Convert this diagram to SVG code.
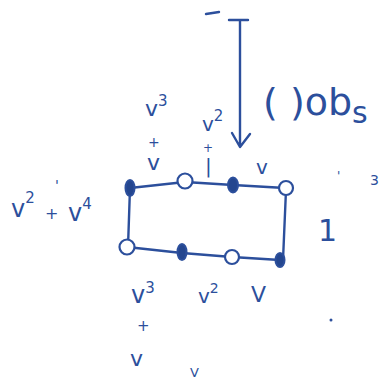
<svg xmlns="http://www.w3.org/2000/svg" width="382" height="382" viewBox="0 0 382 382">
<style>
.ink{stroke:#2c4f9c;stroke-width:2.4;fill:none;stroke-linecap:round;stroke-linejoin:round}
.full{fill:#24468f;stroke:#2c4f9c;stroke-width:2}
.open{fill:#fff;stroke:#2c4f9c;stroke-width:2.2}
.t{font-family:"DejaVu Sans",sans-serif;fill:#2c4f9c}
</style>
<rect width="382" height="382" fill="#fff"/>
<g id="connectors">
<path class="ink" d="M130,188 L185,182 L233,185 L285,188"/>
<path class="ink" d="M127,247 L182,253 L232,257 L280,260"/>
<path class="ink" d="M130,188 L128,247"/>
<path class="ink" d="M286,190 L283,260"/>
<path class="ink" d="M229,20 L248,20 M240,21 L240,146 M232,133 L240,147 L250,134"/>
<path class="ink" d="M206,14 L219,12"/>
</g>
<g id="n1"><ellipse class="full" cx="130" cy="188" rx="4.5" ry="8"/></g>
<g id="n2"><circle class="open" cx="185" cy="181" r="7.5"/></g>
<g id="n3"><ellipse class="full" cx="233" cy="185" rx="5" ry="7.5"/></g>
<g id="n4"><circle class="open" cx="286" cy="188" r="7"/></g>
<g id="n5"><circle class="open" cx="127" cy="247" r="7.5"/></g>
<g id="n6"><ellipse class="full" cx="182" cy="252" rx="4.5" ry="8"/></g>
<g id="n7"><circle class="open" cx="232" cy="257" r="7"/></g>
<g id="n8"><ellipse class="full" cx="280" cy="260" rx="4.5" ry="7"/></g>
<g id="labels">
<text class="t" x="263" y="115" font-size="38">( )ob<tspan font-size="30" dy="8">s</tspan></text>
<text class="t" x="145" y="116" font-size="22">v<tspan font-size="15" dy="-10">3</tspan></text>
<text class="t" x="148" y="147" font-size="14">+</text>
<text class="t" x="147" y="170" font-size="22">v</text>
<text class="t" x="202" y="131" font-size="20">v<tspan font-size="15" dy="-10">2</tspan></text>
<text class="t" x="203" y="152" font-size="12">+</text>
<text class="t" x="205" y="173" font-size="20">|</text>
<text class="t" x="256" y="174" font-size="20">v</text>
<text class="t" x="11" y="217" font-size="24">v<tspan font-size="15" dy="-14">2</tspan></text>
<text class="t" x="55" y="190" font-size="14">'</text>
<text class="t" x="45" y="219" font-size="16">+</text>
<text class="t" x="68" y="221" font-size="24">v<tspan font-size="15" dy="-12">4</tspan></text>
<text class="t" x="318" y="241" font-size="30">1</text>
<text class="t" x="131" y="303" font-size="24">v<tspan font-size="15" dy="-10">3</tspan></text>
<text class="t" x="137" y="331" font-size="15">+</text>
<text class="t" x="130" y="366" font-size="22">v</text>
<text class="t" x="198" y="303" font-size="20">v<tspan font-size="14" dy="-10">2</tspan></text>
<text class="t" x="251" y="302" font-size="22">V</text>
<text class="t" x="190" y="377" font-size="13">V</text>
<text class="t" x="337" y="180" font-size="12">'</text>
<text class="t" x="370" y="185" font-size="14">3</text>
<circle cx="331" cy="320" r="1.5" fill="#2c4f9c"/>
</g>
</svg>
